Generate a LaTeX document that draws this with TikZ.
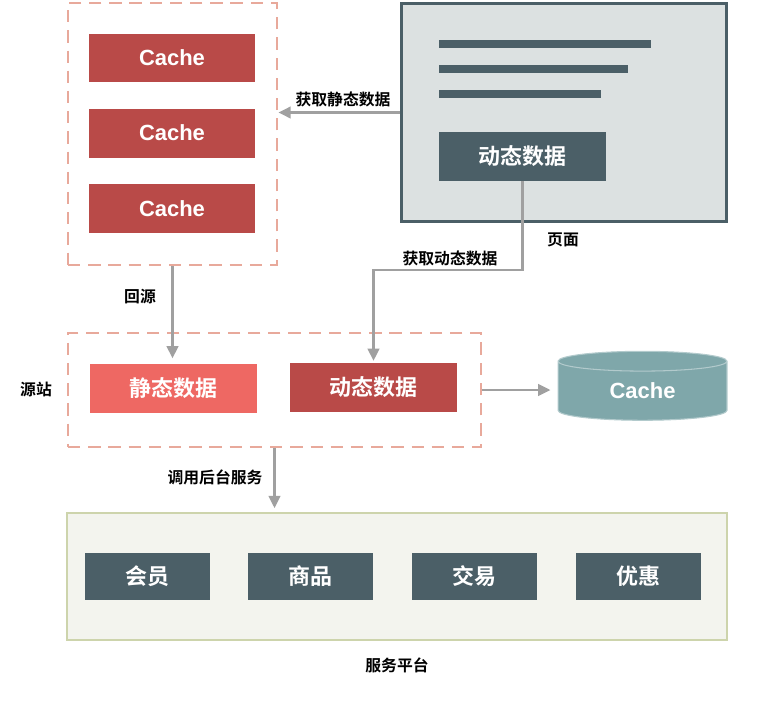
\documentclass[tikz,border=0pt]{standalone}
\usepackage{fontspec}
\setmainfont{Noto Sans CJK SC}[BoldFont={Noto Sans CJK SC Bold}]
\newfontfamily\lat{Liberation Sans}
\usepackage{tikz}
\usetikzlibrary{arrows.meta}
\usetikzlibrary{positioning,calc,shapes.geometric}
\usepackage{xcolor}
\definecolor{cachered}{HTML}{B94A48}
\definecolor{statred}{HTML}{EE6863}
\definecolor{slate}{HTML}{4B5F67}
\definecolor{pagefill}{HTML}{DCE1E1}
\definecolor{dashcol}{HTML}{E8A99B}
\definecolor{arrowgray}{HTML}{A0A0A0}
\definecolor{cylfill}{HTML}{7FA7AA}
\definecolor{platfill}{HTML}{F3F4EE}
\definecolor{platedge}{HTML}{CDD4AC}
\tikzset{
    box/.style={
        rectangle,
        text=white,
        minimum width=3.34cm,
        minimum height=0.98cm,
        inner sep=0pt,
        font=\bfseries\fontsize{12.5}{14}\selectfont
    },
    svc/.style={
        box,
        fill=slate,
        minimum width=2.5cm,
        minimum height=0.94cm
    },
    dashbox/.style={
        draw=dashcol,
        line width=1.6pt,
        dash pattern=on 7pt off 4.5pt,
        inner sep=0pt
    },
    flow/.style={
        draw=arrowgray,
        line width=1.5pt,
        -{Triangle[length=7pt, width=6.5pt]}
    },
    tag/.style={
        font=\bfseries\fontsize{9}{11}\selectfont,
        inner sep=1pt
    }
}

\begin{document}
\begin{tikzpicture}[x=0.02cm, y=-0.02cm]
    \useasboundingbox[fill=white] (0,0) rectangle (766,700);
    % Edge cache
    \node[dashbox, minimum width=4.18cm, minimum height=5.24cm] (edge) at (172.5,134) {};
    \node[box, fill=cachered, font=\lat\bfseries\fontsize{12.5}{14}\selectfont] (c1) at (172,58) {Cache};
    \node[box, fill=cachered, font=\lat\bfseries\fontsize{12.5}{14}\selectfont] (c2) at (172,133) {Cache};
    \node[box, fill=cachered, font=\lat\bfseries\fontsize{12.5}{14}\selectfont] (c3) at (172,208.5) {Cache};

    % Page
    \node[draw=slate, fill=pagefill, line width=1.7pt, minimum width=6.52cm, minimum height=4.38cm] (page) at (564,112.5) {};
    \draw[slate, line width=4pt] (439,44) -- (651,44);
    \draw[slate, line width=4pt] (439,69) -- (628,69);
    \draw[slate, line width=4pt] (439,94) -- (601,94);
    \node[box, fill=slate] (pdyn) at (522.5,156.5) {动态数据};

    % Origin
    \node[dashbox, minimum width=8.26cm, minimum height=2.28cm] (src) at (274.5,390) {};
    \node[box, fill=statred] (sstat) at (173.5,388.5) {静态数据};
    \node[box, fill=cachered] (sdyn) at (373.5,387.5) {动态数据};
    \node[cylinder, shape border rotate=90, aspect=0.3, draw=cylfill!60!white, line width=0.6pt, fill=cylfill, text=white,
        minimum width=3.38cm, minimum height=1.38cm, inner sep=0pt,
        font=\lat\bfseries\fontsize{12.5}{14}\selectfont] (cyl) at (642.5,391) {Cache};

    % Services
    \node[draw=platedge, fill=platfill, line width=1.5pt, minimum width=13.2cm, minimum height=2.54cm] (plat) at (397,576.5) {};
    \node[svc] (s1) at (147.5,576.5) {会员};
    \node[svc] (s2) at (310.5,576.5) {商品};
    \node[svc] (s3) at (474.5,576.5) {交易};
    \node[svc] (s4) at (638,576.5) {优惠};

    % Labels
    \node[tag] (l1) at (343,99) {获取静态数据};
    \node[tag] (l2) at (563,240) {页面};
    \node[tag] (l3) at (450,258) {获取动态数据};
    \node[tag] (l4) at (140,297) {回源};
    \node[tag] (l5) at (36,389) {源站};
    \node[tag] (l6) at (215,477) {调用后台服务};
    \node[tag] (l7) at (397,665) {服务平台};

    % Edges
    \coordinate (bend) at (450,270);
    \draw[flow] (page.west) -- (page.west -| edge.east);
    \draw[flow, shorten >=1pt] (pdyn.south) |- (bend) -| (sdyn.north);
    \draw[flow, shorten >=3pt] (edge.south) -- (edge.south |- sstat.north);
    \draw[flow, shorten >=4pt] (src.east) -- (src.east -| cyl.west);
    \draw[flow, shorten >=2pt] (src.south) -- (src.south |- plat.north);
\end{tikzpicture}
\end{document}
